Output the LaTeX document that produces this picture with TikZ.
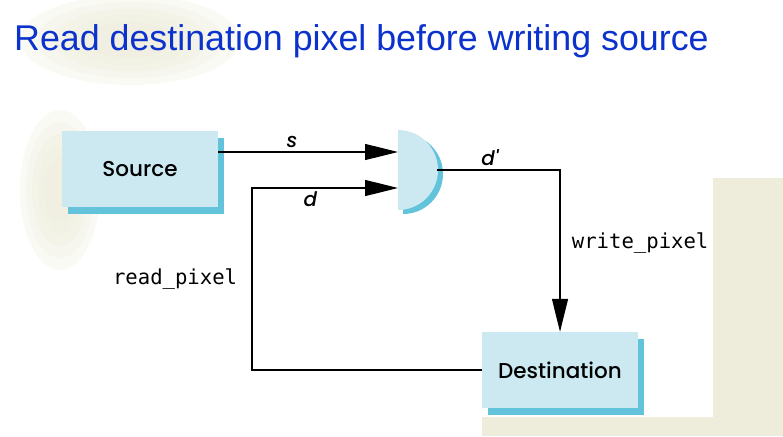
\documentclass[tikz,border=0pt]{standalone}
\usepackage{fontspec}
\setmainfont{Liberation Sans}
\newfontfamily\boxfont{Poppins Medium}
\newfontfamily\codefont{DejaVu Sans Mono}
\usetikzlibrary{positioning,arrows.meta,shadows,calc}
\definecolor{boxblue}{RGB}{204,233,242}
\definecolor{shadowblue}{RGB}{98,195,219}
\definecolor{titleblue}{RGB}{12,50,205}
\definecolor{leafbeige}{RGB}{238,236,218}
\tikzset{
boxnode/.style={rectangle, fill=boxblue, minimum width=156pt, minimum height=76pt,
                font=\boxfont\fontsize{21.5}{24}\selectfont,
                general shadow={fill=shadowblue, shadow xshift=6pt, shadow yshift=-7pt}},
codelabel/.style={font=\codefont\fontsize{20.6}{24}\selectfont},
varlabel/.style={font=\boxfont\itshape\fontsize{20}{24}\selectfont},
wire/.style={draw=black, line width=1.2pt},
leaf/.style={fill=leafbeige, opacity=0.25},
>={Triangle[width=16pt,length=33pt]}
}
\begin{document}
\begin{tikzpicture}[x=1pt, y=-1pt]
\useasboundingbox (0,0) rectangle (783,436);

%slide background
\fill[white] (0,0) rectangle (783,436);
\foreach \r in {1,0.85,0.7,0.55,0.4}{
  \fill[leaf] (130,40) ellipse [x radius=\r*110pt, y radius=\r*45pt];
  \fill[leaf] (60,190) ellipse [x radius=\r*40pt, y radius=\r*80pt];
}
\fill[leafbeige] (713,178) rectangle (783,436);
\fill[leafbeige] (482,417) rectangle (783,436);

\node[anchor=base west, inner sep=0, text=titleblue, font=\fontsize{35.8}{40}\selectfont] (title) at (14,50) {Read destination pixel before writing source};

%Blocks
\node[boxnode] (src) at (140,169) {Source};
\node[boxnode] (dst) at (560,370) {Destination};

%Gate
\fill[shadowblue, shift={(5,4)}] (398,130) arc[start angle=90, end angle=-90, radius=40pt] -- cycle;
\fill[boxblue] (398,130) arc[start angle=90, end angle=-90, radius=40pt] -- cycle;
\coordinate (sin) at (398,152);
\coordinate (din) at (398,188);
\coordinate (gout) at (437,170);
\coordinate (loop) at (252,188);

\draw[wire,->] (src.east |- sin) --node[varlabel, above, pos=0.41] {s} (sin) ;
\draw[wire,->] (dst.west) -- (dst.west -| loop) --node[codelabel, left, xshift=-11pt] {read\_pixel} (loop) --node[varlabel, below, pos=0.4] {d} (din) ;
\draw[wire,->] (gout) --node[varlabel, above, pos=0.43] {d'} (gout -| dst.north) --node[codelabel, right, pos=0.45, xshift=8pt] {write\_pixel} (dst.north) ;
\end{tikzpicture}
\end{document}
